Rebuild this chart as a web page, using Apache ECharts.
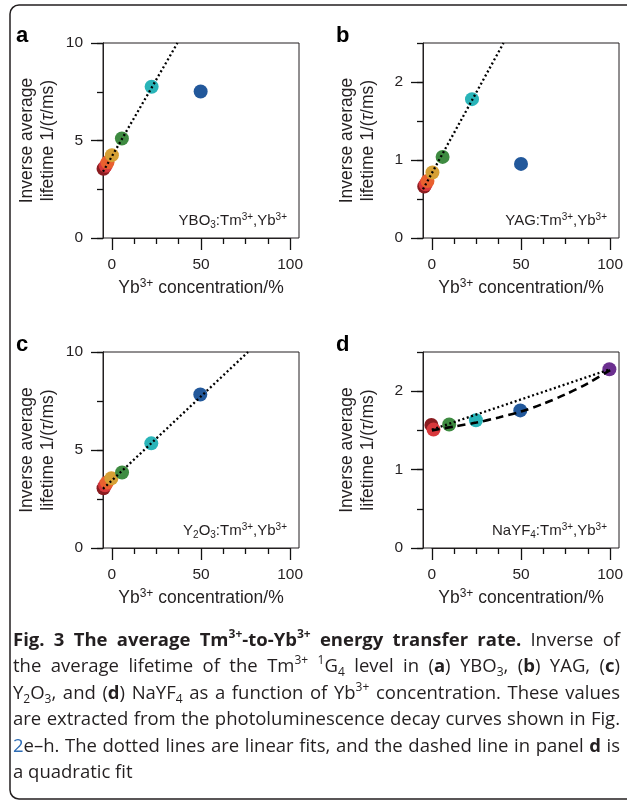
<!DOCTYPE html>
<html><head><meta charset="utf-8">
<script src="https://cdn.jsdelivr.net/npm/echarts@6/dist/echarts.min.js"></script>
<style>html,body{margin:0;padding:0;background:#fff}#c{width:627px;height:802px}</style>
</head><body><div id="c"></div>
<script>
// ---------------- data ----------------
const xTickMin = 0, xTickMax = 100, xTickStep = 50, xMinorSplit = 4;
const xDataMin = -5, xDataMax = 105;

// panel a: YBO3
const aConc = [-4.7, -3.5, -2.5, 0.0, 5.6, 22.3, 49.8];
const aRate = [3.55, 3.70, 3.88, 4.25, 5.10, 7.76, 7.51];
const aColors = ['darkred', 'red', 'orange', 'gold', 'green', 'cyan', 'blue'];
const aFitConc = [-5, 36.8];
const aFitRate = [3.40, 10.0];

// panel b: YAG
const bConc = [-4.3, -3.5, -2.5, 0.3, 6.0, 22.5, 50.0];
const bRate = [0.66, 0.69, 0.73, 0.84, 1.04, 1.78, 0.95];
const bColors = ['darkred', 'red', 'orange', 'gold', 'green', 'cyan', 'blue'];
const bFitConc = [-5, 40.2];
const bFitRate = [0.625, 2.5];

// panel c: Y2O3
const cConc = [-4.7, -3.8, -2.8, -0.3, 5.7, 22.1, 49.6];
const cRate = [3.05, 3.20, 3.34, 3.56, 3.85, 5.34, 7.83];
const cColors = ['darkred', 'red', 'orange', 'gold', 'green', 'cyan', 'blue'];
const cFitConc = [-5, 76.4];
const cFitRate = [3.02, 10.0];

// panel d: NaYF4
const dConc = [-0.3, 0.9, 9.7, 24.7, 49.6, 99.6];
const dRate = [1.57, 1.51, 1.575, 1.63, 1.755, 2.28];
const dColors = ['darkred', 'red', 'green', 'cyan', 'blue', 'purple'];
const dLinConc = [0, 100];
const dLinRate = [1.51, 2.28];
const dQuadConc = [0, 12.5, 25, 37.5, 50, 62.5, 75, 87.5, 100];
const dQuadRate = [1.50, 1.55, 1.60, 1.665, 1.74, 1.84, 1.96, 2.10, 2.27];

// y axes
const yAxisMax = [10, 2.5, 10, 2.5];
const yLabelStep = [5, 1, 5, 1];
const yLabelTop = [10, 2, 10, 2];
const yMinorStep = [2.5, 0.5, 2.5, 0.5];

const panelLetters = ['a', 'b', 'c', 'd'];
const hostLabels = [
  'YBO{sub|3}:Tm{sup|3+},Yb{sup|3+}',
  'YAG:Tm{sup|3+},Yb{sup|3+}',
  'Y{sub|2}O{sub|3}:Tm{sup|3+},Yb{sup|3+}',
  'NaYF{sub|4}:Tm{sup|3+},Yb{sup|3+}'
];
const xTitle = 'Yb{sup|3+} concentration/%';
const yTitle = 'Inverse average\nlifetime 1/({it|τ}/ms)';

const captionWords = [
  ['{b|Fig.}', '{b|3}', '{b|The}', '{b|average}', '{b|Tm}{bsup|3+}{b|-to-Yb}{bsup|3+}', '{b|energy}', '{b|transfer}', '{b|rate.}', 'Inverse', 'of'],
  ['the', 'average', 'lifetime', 'of', 'the', 'Tm{sup|3+}', '{sup|1}G{sub|4}', 'level', 'in', '({b|a})', 'YBO{sub|3},', '({b|b})', 'YAG,', '({b|c})'],
  ['Y{sub|2}O{sub|3},', 'and', '({b|d})', 'NaYF{sub|4}', 'as', 'a', 'function', 'of', 'Yb{sup|3+}', 'concentration.', 'These', 'values'],
  ['are', 'extracted', 'from', 'the', 'photoluminescence', 'decay', 'curves', 'shown', 'in', 'Fig.'],
  ['{link|2}e–h.', 'The', 'dotted', 'lines', 'are', 'linear', 'fits,', 'and', 'the', 'dashed', 'line', 'in', 'panel', '{b|d}', 'is'],
  ['a', 'quadratic', 'fit']
];

// ---------------- styles ----------------
const palette = {
  darkred: '#8a1c20', red: '#d8383c', orange: '#e9602f', gold: '#d6a035',
  green: '#3e8b41', cyan: '#29b4b8', blue: '#22589b', purple: '#6b2f8f'
};
const INK = '#231f20';
const TICK = '#111';
const TICKW = 1.3;
const CF = 'Liberation Sans, Arial, sans-serif';
const CAPF = 'Open Sans, Noto Sans, sans-serif';

const frames = [
  {left: 103, top: 43, width: 196, height: 195},
  {left: 423, top: 43, width: 196, height: 195},
  {left: 103, top: 352, width: 196, height: 196},
  {left: 423, top: 352, width: 196, height: 196}
];

const panels = [
  {conc: aConc, rate: aRate, colors: aColors, fits: [{c: aFitConc, r: aFitRate, dash: 'dot'}]},
  {conc: bConc, rate: bRate, colors: bColors, fits: [{c: bFitConc, r: bFitRate, dash: 'dot'}]},
  {conc: cConc, rate: cRate, colors: cColors, fits: [{c: cFitConc, r: cFitRate, dash: 'dot'}]},
  {conc: dConc, rate: dRate, colors: dColors, fits: [{c: dLinConc, r: dLinRate, dash: 'dot'}, {c: dQuadConc, r: dQuadRate, dash: 'dash', smooth: true}]}
];

function rs(size, opts) {
  opts = opts || {};
  return Object.assign({fontFamily: opts.family || CF, fontSize: size, fontWeight: opts.weight || 'normal',
    fontStyle: opts.style || 'normal', fill: opts.fill || INK}, opts.extra || {});
}
function chartRich(base) {
  const sub = Math.round(base * 0.68);
  return {
    sup: rs(sub, {extra: {verticalAlign: 'top', lineHeight: sub}}),
    sub: rs(sub, {extra: {verticalAlign: 'bottom', lineHeight: sub}}),
    it: rs(base, {style: 'italic', extra: {lineHeight: base + 4}})
  };
}

const option = {animation: false, grid: [], xAxis: [], yAxis: [], series: [], graphic: []};

function addGrid(rect, show) {
  option.grid.push(Object.assign({}, rect, show
    ? {show: true, borderColor: INK, borderWidth: 1}
    : {show: false}));
  return option.grid.length - 1;
}
function hiddenAxis(gi, min, max) {
  return {gridIndex: gi, type: 'value', min: min, max: max, show: false};
}
function tickAxis(gi, min, max, step, len, labels, minorSplit, labelMargin) {
  const ax = {
    gridIndex: gi, type: 'value', min: min, max: max, interval: step,
    axisLine: {show: true, onZero: false, lineStyle: {color: INK, width: 1}},
    splitLine: {show: false},
    axisTick: {show: true, length: len, lineStyle: {color: TICK, width: TICKW}},
    axisLabel: labels ? {show: true, margin: labelMargin, fontSize: 15.5, fontFamily: CF, color: INK} : {show: false}
  };
  if (minorSplit) ax.minorTick = {show: true, splitNumber: minorSplit, length: 6, lineStyle: {color: TICK, width: TICKW}};
  return ax;
}

panels.forEach((p, i) => {
  const f = frames[i];
  const pxPerX = f.width / (xDataMax - xDataMin);
  const pxPerY = f.height / yAxisMax[i];

  // data grid with frame
  const gData = addGrid(f, true);
  option.xAxis.push(hiddenAxis(gData, xDataMin, xDataMax));
  option.yAxis.push(hiddenAxis(gData, 0, yAxisMax[i]));

  // x ticks 0..100
  const gX = addGrid({left: f.left + (xTickMin - xDataMin) * pxPerX, top: f.top,
    width: (xTickMax - xTickMin) * pxPerX, height: f.height}, false);
  option.xAxis.push(tickAxis(gX, xTickMin, xTickMax, xTickStep, 12, true, xMinorSplit, 19));
  option.yAxis.push(hiddenAxis(gX, 0, yAxisMax[i]));

  // y labelled ticks
  const gY = addGrid({left: f.left, top: f.top + (yAxisMax[i] - yLabelTop[i]) * pxPerY,
    width: f.width, height: yLabelTop[i] * pxPerY}, false);
  option.xAxis.push(hiddenAxis(gY, xDataMin, xDataMax));
  option.yAxis.push(tickAxis(gY, 0, yLabelTop[i], yLabelStep[i], 12, true, 0, 20));

  // y minor ticks
  const gYm = addGrid(f, false);
  option.xAxis.push(hiddenAxis(gYm, xDataMin, xDataMax));
  option.yAxis.push(tickAxis(gYm, 0, yAxisMax[i], yMinorStep[i], 6, false, 0, 0));

  option.series.push({
    type: 'scatter', xAxisIndex: gData, yAxisIndex: gData, symbolSize: 14, z: 2, silent: true,
    data: p.conc.map((x, k) => ({value: [x, p.rate[k]], itemStyle: {color: palette[p.colors[k]], opacity: 1}}))
  });
  p.fits.forEach(ft => {
    option.series.push({
      type: 'line', xAxisIndex: gData, yAxisIndex: gData, z: 3, silent: true,
      symbol: 'none', smooth: ft.smooth ? 0.3 : false, clip: true,
      lineStyle: ft.dash === 'dot'
        ? {color: '#000', width: 2.3, type: [2, 2.6], cap: 'butt'}
        : {color: '#000', width: 2.6, type: [8, 5], cap: 'butt'},
      data: ft.c.map((x, k) => [x, ft.r[k]])
    });
  });

  const cx = f.left + f.width / 2;
  option.graphic.push({type: 'text', x: f.left - 87, y: f.top - 7.5,
    style: {text: panelLetters[i], fontFamily: CF, fontSize: 22, fontWeight: 'bold', fill: '#000', align: 'left', verticalAlign: 'middle'}});
  option.graphic.push({type: 'text', x: cx, y: f.top + f.height + 50,
    style: Object.assign(rs(17.5), {text: xTitle, align: 'center', verticalAlign: 'middle', lineHeight: 20, rich: chartRich(17.5)})});
  option.graphic.push({type: 'text', x: f.left - 65, y: f.top + f.height / 2, rotation: Math.PI / 2,
    style: Object.assign(rs(17.5), {text: yTitle, align: 'center', verticalAlign: 'middle', lineHeight: 21, rich: chartRich(17.5)})});
  option.graphic.push({type: 'text', x: f.left + f.width - 12, y: f.top + f.height - 17,
    style: Object.assign(rs(15), {text: hostLabels[i], align: 'right', verticalAlign: 'middle', lineHeight: 18, rich: chartRich(15)})});
});

// outer frame
option.graphic.push({type: 'rect', shape: {x: 10, y: 5, width: 640, height: 794, r: 9},
  style: {fill: 'none', stroke: INK, lineWidth: 1.5}, z: -1});

// caption (justified)
const capSize = 18.5;
const capSup = 12;
const capRich = {
  b: rs(capSize, {family: CAPF, weight: 'bold', extra: {lineHeight: 24}}),
  bsup: rs(capSup, {family: CAPF, weight: 'bold', extra: {verticalAlign: 'top', lineHeight: capSup}}),
  sup: rs(capSup, {family: CAPF, extra: {verticalAlign: 'top', lineHeight: capSup}}),
  sub: rs(capSup, {family: CAPF, extra: {verticalAlign: 'bottom', lineHeight: capSup}}),
  link: rs(capSize, {family: CAPF, fill: '#2f6db5', extra: {lineHeight: 24}})
};
const capY = [641, 667, 694, 720, 747, 773];
const capLeft = 13, capRight = 620;
function capStyle(t) {
  return Object.assign(rs(capSize, {family: CAPF}), {text: t, align: 'left', verticalAlign: 'middle', lineHeight: 24, rich: capRich});
}
function measure(t) {
  const el = new echarts.graphic.Text({style: capStyle(t)});
  return el.getBoundingRect().width;
}
captionWords.forEach((words, k) => {
  const last = k === captionWords.length - 1;
  let placed = false;
  if (!last) {
    try {
      const widths = words.map(measure);
      const total = widths.reduce((s, w) => s + w, 0);
      const gap = (capRight - capLeft - total) / (words.length - 1);
      if (isFinite(gap) && gap > 2 && gap < 20) {
        let x = capLeft;
        words.forEach((w, j) => {
          option.graphic.push({type: 'text', x: x, y: capY[k], style: capStyle(w)});
          x += widths[j] + gap;
        });
        placed = true;
      }
    } catch (e) { placed = false; }
  }
  if (!placed) {
    option.graphic.push({type: 'text', x: capLeft, y: capY[k], style: capStyle(words.join(' '))});
  }
});

const chart = echarts.init(document.getElementById('c'), null, {renderer: 'canvas'});
chart.setOption(option);
</script>
</body></html>
